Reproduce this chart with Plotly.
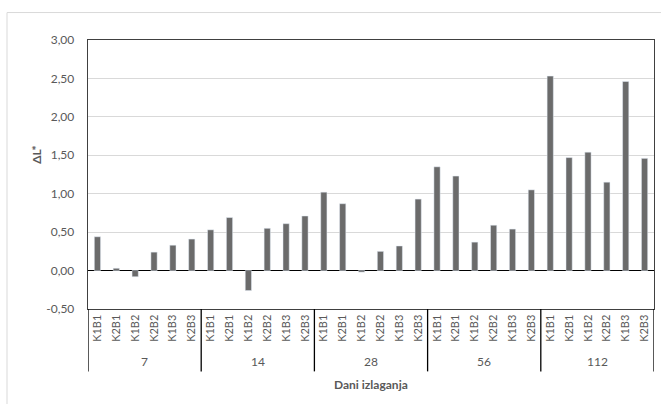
import plotly.graph_objects as go

groups = ["7", "14", "28", "56", "112"]
subcats = ["K1B1", "K2B1", "K1B2", "K2B2", "K1B3", "K2B3"]
values = {
    "7":   [0.44, 0.03, -0.08, 0.24, 0.33, 0.41],
    "14":  [0.53, 0.69, -0.26, 0.55, 0.61, 0.71],
    "28":  [1.02, 0.87, -0.02, 0.25, 0.32, 0.93],
    "56":  [1.35, 1.23, 0.37, 0.59, 0.54, 1.05],
    "112": [2.53, 1.47, 1.54, 1.15, 2.46, 1.46],
}
y_ticks = [-0.5, 0.0, 0.5, 1.0, 1.5, 2.0, 2.5, 3.0]
y_ticktext = ["-0,50", "0,00", "0,50", "1,00", "1,50", "2,00", "2,50", "3,00"]

x_idx, y_vals, x_text = [], [], []
for gi, g in enumerate(groups):
    for si, s in enumerate(subcats):
        x_idx.append(gi * len(subcats) + si)
        y_vals.append(values[g][si])
        x_text.append(s)

n = len(x_idx)
FONT = "Lato, Liberation Sans, sans-serif"
TXT = "#595959"

fig = go.Figure(go.Bar(x=x_idx, y=y_vals, marker_color="#6b6b6b", width=0.33,
                       hoverinfo="skip"))

L, R, T, B = 88, 7, 40, 94.5
W, H = 661, 404
pw, ph = W - L - R, H - T - B

def px_x(px):
    return (px - L) / pw

def px_y(py):
    return (H - B - py) / ph

shapes = []
# outer light chart border
shapes.append(dict(type="rect", xref="paper", yref="paper",
                   x0=px_x(7), x1=px_x(700), y0=px_y(440), y1=px_y(12.5),
                   line=dict(color="#d9d9d9", width=1), layer="below"))
# category separators
sep_bottom = px_y(372)
for k in range(len(groups) + 1):
    xv = k * len(subcats) - 0.5
    shapes.append(dict(type="line", xref="x", yref="paper", x0=xv, x1=xv,
                       y0=0, y1=sep_bottom, line=dict(color="#000000", width=1.3)))

annotations = []
for gi, g in enumerate(groups):
    annotations.append(dict(x=gi * len(subcats) + (len(subcats) - 1) / 2, xref="x",
                            y=px_y(362), yref="paper", text=g, showarrow=False,
                            xanchor="center", yanchor="middle",
                            font=dict(family=FONT, size=12, color=TXT)))
annotations.append(dict(x=0.5, xref="paper", y=px_y(385), yref="paper",
                        text="<b>Dani izlaganja</b>", showarrow=False,
                        xanchor="center", yanchor="middle",
                        font=dict(family=FONT, size=12, color=TXT)))
annotations.append(dict(x=px_x(37), xref="paper", y=px_y(155), yref="paper",
                        text="<b>ΔL*</b>", showarrow=False, textangle=-90,
                        xanchor="center", yanchor="middle",
                        font=dict(family=FONT, size=12, color=TXT)))

fig.update_layout(
    width=W, height=H,
    margin=dict(l=L, r=R, t=T, b=B),
    paper_bgcolor="white", plot_bgcolor="white",
    showlegend=False, hovermode=False,
    shapes=shapes, annotations=annotations,
    font=dict(family=FONT, size=11, color=TXT),
)
fig.update_xaxes(range=[-0.5, n - 0.5], tickvals=x_idx, ticktext=x_text,
                 tickangle=-90, showgrid=False, zeroline=False,
                 showline=True, mirror=True, linecolor="#404040", linewidth=1.3,
                 ticks="", tickfont=dict(family=FONT, size=11, color=TXT))
fig.update_yaxes(range=[-0.5, 3.0], tickvals=y_ticks, ticktext=y_ticktext,
                 showgrid=True, gridcolor="#d9d9d9", gridwidth=1,
                 zeroline=True, zerolinecolor="#000000", zerolinewidth=1.3,
                 showline=True, mirror=True, linecolor="#404040", linewidth=1.3,
                 ticks="", ticklabelstandoff=10,
                 tickfont=dict(family=FONT, size=12, color=TXT))

fig.write_html("out.html", config={"displayModeBar": False, "staticPlot": True},
               post_script="document.body.style.margin='0';document.body.style.overflow='hidden';")
